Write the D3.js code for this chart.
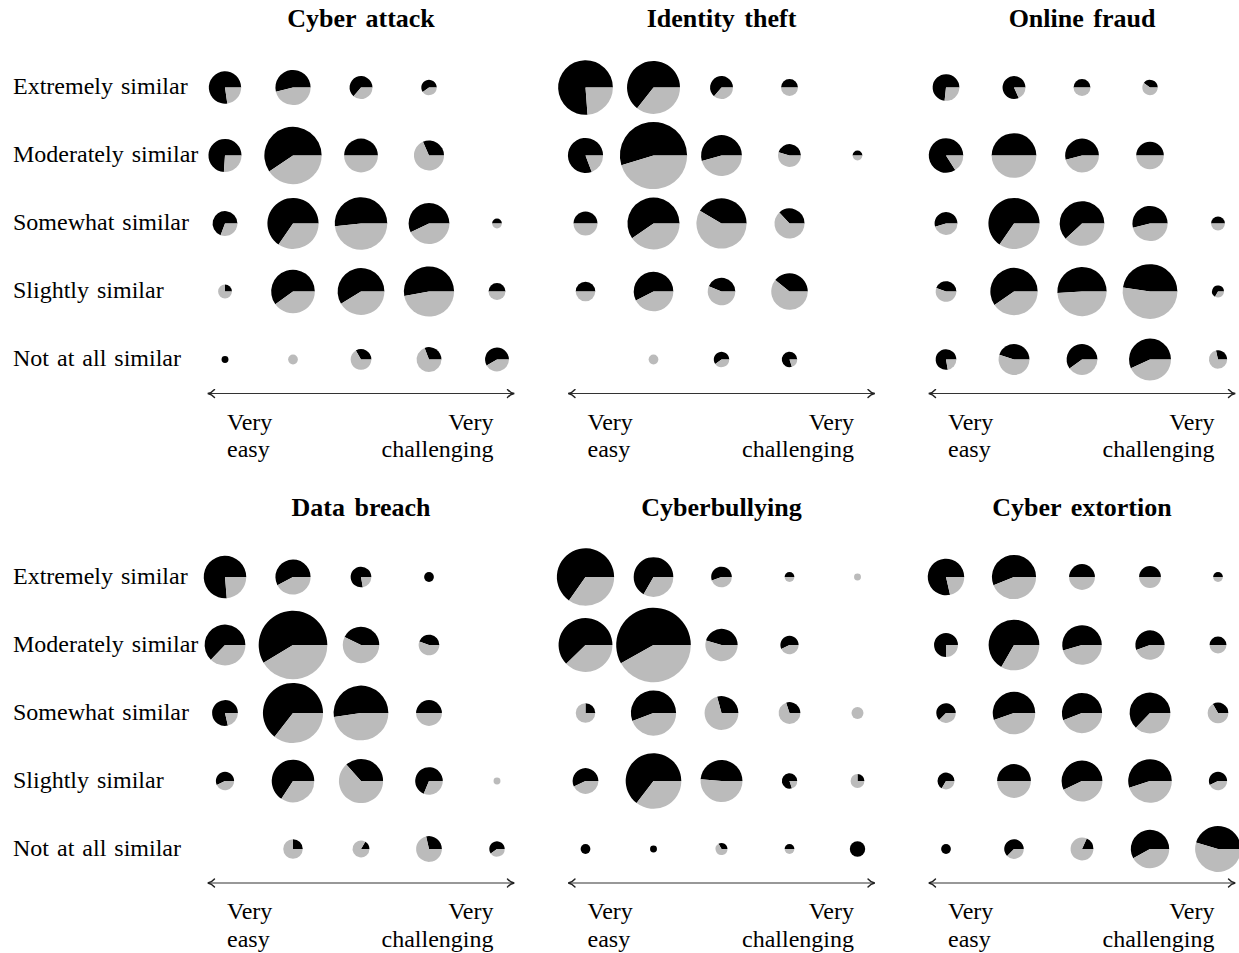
<!DOCTYPE html>
<html>
<head>
<meta charset="utf-8">
<script src="https://cdn.jsdelivr.net/npm/d3@7"></script>
<style>
  body { margin: 0; background: #fff; }
  text { font-family: "Liberation Serif", "Times New Roman", serif; fill: #000; }
</style>
</head>
<body>
<script>
// size variables
var width = 1239, height = 953;

// categories
const panelTitles = ["Cyber attack", "Identity theft", "Online fraud", "Data breach", "Cyberbullying", "Cyber extortion"];
const similarityLevels = ["Extremely similar", "Moderately similar", "Somewhat similar", "Slightly similar", "Not at all similar"];
const difficultyLevels = [1, 2, 3, 4, 5];   // very easy -> very challenging
const easyLabel = ["Very", "easy"];
const hardLabel = ["Very", "challenging"];

// counts per cell (rows = similarity, cols = difficulty), black and gray parts
const cyberAttackBlack = [[17,14,7,3,0],[17,41,12,6,0],[9,36,30,20,1],[1,24,27,28,3],[1,0,3,4,7]];
const cyberAttackGray  = [[5,12,4,2,0],[6,28,12,13,0],[4,19,28,15,1],[3,16,19,25,3],[0,2,6,9,5]];

const identityTheftBlack = [[48,38,7,3,0],[21,52,19,5,1],[6,34,22,7,0],[4,19,7,11,0],[0,0,3,4,0]];
const identityTheftGray  = [[15,21,4,3,0],[5,43,16,6,1],[6,23,31,12,0],[4,14,9,17,0],[0,2,2,1,0]];

const onlineFraudBlack = [[11,9,3,2,0],[21,21,13,8,0],[6,36,26,14,2],[4,28,26,30,2],[7,9,12,21,2]];
const onlineFraudGray  = [[4,2,3,3,0],[4,21,11,8,0],[5,19,16,12,2],[5,19,25,33,1],[2,11,8,16,5]];

const dataBreachBlack = [[29,15,7,2,0],[22,58,12,4,0],[11,49,33,7,0],[4,25,15,11,0],[0,2,1,4,3]];
const dataBreachGray  = [[9,11,2,0,0],[13,41,16,5,0],[3,27,30,7,0],[3,13,26,5,1],[0,6,5,10,2]];

const cyberbullyingBlack = [[45,22,5,1,0],[38,68,10,4,0],[2,24,7,3,0],[8,42,18,4,1],[2,1,1,1,5]];
const cyberbullyingGray  = [[24,11,4,1,1],[23,49,12,3,0],[6,19,17,7,3],[6,23,19,1,3],[0,0,2,1,0]];

const cyberExtortionBlack = [[22,23,7,5,1],[9,36,18,10,3],[5,21,19,22,3],[4,12,20,22,4],[2,5,2,18,20]];
const cyberExtortionGray  = [[6,18,7,5,1],[3,18,15,8,3],[3,17,15,13,6],[2,12,15,18,3],[0,3,9,13,24]];

const blackSeries = [cyberAttackBlack, identityTheftBlack, onlineFraudBlack, dataBreachBlack, cyberbullyingBlack, cyberExtortionBlack];
const graySeries  = [cyberAttackGray, identityTheftGray, onlineFraudGray, dataBreachGray, cyberbullyingGray, cyberExtortionGray];

// setup svg
var svg = d3.select('body').append('svg').attr('width', width).attr('height', height);

// scales
var panelX = d3.scalePoint().domain([0, 1, 2]).range([225, 946]);
var panelY = d3.scalePoint().domain([0, 1]).range([87.5, 577]);
var x = d3.scalePoint().domain(difficultyLevels).range([0, 272]);
var y = d3.scalePoint().domain(similarityLevels).range([0, 272]);
// biggest pie in the figure sets the size scale (area ~ count)
var maxTotal = d3.max(blackSeries.flatMap((p, i) => p.flatMap((row, j) => row.map((b, k) => b + graySeries[i][j][k]))));
var r = d3.scaleSqrt().domain([0, maxTotal]).range([0, 37.3]);
var cols = ['#000000', '#bbbbbb'];

// black starts at 3 o'clock and runs counter-clockwise
var pie = d3.pie().sort(null).startAngle(Math.PI / 2).endAngle(Math.PI / 2 - 2 * Math.PI);
var arc = d3.arc().innerRadius(0);

// arrow heads
var defs = svg.append('defs');
defs.append('marker')
    .attr('id', 'head')
    .attr('viewBox', '-8 -5 10 10')
    .attr('markerWidth', 10).attr('markerHeight', 10)
    .attr('markerUnits', 'userSpaceOnUse')
    .attr('refX', 0).attr('refY', 0)
    .attr('orient', 'auto-start-reverse')
    .append('path')
    .attr('d', 'M-6.5,-4 C-4.5,-1.6 -2.2,-0.4 0.3,0 C-2.2,0.4 -4.5,1.6 -6.5,4')
    .attr('fill', 'none').attr('stroke', '#222').attr('stroke-width', 1.4)
    .attr('stroke-linecap', 'round');

panelTitles.forEach(function(title, i) {
    var col = i % 3, row = Math.floor(i / 3);
    var g = svg.append('g').attr('transform', 'translate(' + panelX(col) + ',' + panelY(row) + ')');

    // title
    g.append('text')
        .attr('x', x(3)).attr('y', -61)
        .attr('text-anchor', 'middle')
        .attr('font-size', '26px').attr('font-weight', 'bold')
        .attr('word-spacing', '3px')
        .text(title);

    // row labels only on the left panels
    if (col === 0) {
        g.selectAll('.rowlab').data(similarityLevels).join('text')
            .attr('class', 'rowlab')
            .attr('x', 13 - panelX(0))
            .attr('y', d => y(d) + 6.8)
            .attr('font-size', '24px')
            .attr('word-spacing', '2px')
            .text(d => d);
    }

    // cells
    var cells = [];
    similarityLevels.forEach(function(s, j) {
        difficultyLevels.forEach(function(dl, k) {
            var b = blackSeries[i][j][k], gr = graySeries[i][j][k];
            if (b + gr > 0) cells.push({ s: s, d: dl, black: b, gray: gr, total: b + gr });
        });
    });

    var cg = g.selectAll('.cell').data(cells).join('g')
        .attr('class', 'cell')
        .attr('transform', d => 'translate(' + x(d.d) + ',' + y(d.s) + ')');

    cg.selectAll('path')
        .data(d => pie([d.black, d.gray]).map(a => Object.assign(a, { rad: r(d.total) })))
        .join('path')
        .attr('d', a => arc.outerRadius(a.rad)(a))
        .attr('fill', (a, k) => cols[k]);

    // difficulty arrow
    g.append('line')
        .attr('x1', x(1) - 17).attr('x2', x(5) + 17)
        .attr('y1', 306).attr('y2', 306)
        .attr('stroke', '#333').attr('stroke-width', 1.2)
        .attr('marker-start', 'url(#head)').attr('marker-end', 'url(#head)');

    var lo = g.append('text').attr('font-size', '24px').attr('text-anchor', 'start');
    lo.selectAll('tspan').data(easyLabel).join('tspan')
        .attr('x', x(1) + 2).attr('y', (d, k) => 342 + k * 27.5).text(d => d);
    var hi = g.append('text').attr('font-size', '24px').attr('text-anchor', 'end');
    hi.selectAll('tspan').data(hardLabel).join('tspan')
        .attr('x', x(5) - 3.5).attr('y', (d, k) => 342 + k * 27.5).text(d => d);
});
console.log('ready..');
</script>
</body>
</html>
